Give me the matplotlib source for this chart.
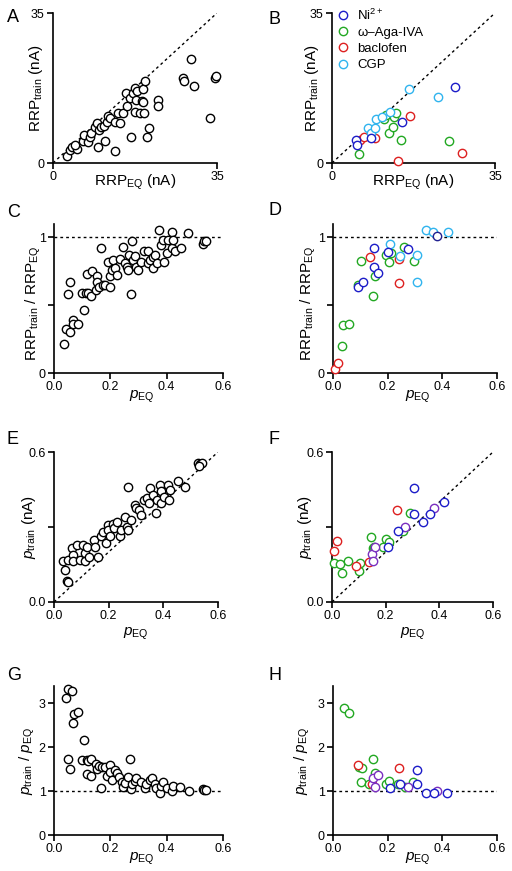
import matplotlib
matplotlib.use("Agg")
import matplotlib.pyplot as plt
from matplotlib.lines import Line2D

plt.rcParams['font.family'] = ['Liberation Sans', 'DejaVu Sans']
plt.rcParams['mathtext.fontset'] = 'custom'
plt.rcParams['mathtext.rm'] = 'Liberation Sans'
plt.rcParams['mathtext.it'] = 'Liberation Sans:italic'
plt.rcParams['mathtext.bf'] = 'Liberation Sans:bold'

# ---------------- data ----------------
# Panel A: RRP_EQ vs RRP_train (nA), control cells
A_x = [2.9, 3.6, 4.0, 5.2, 4.6, 6.3, 6.6, 7.5, 7.9, 8.1, 9.0, 9.3, 9.7, 9.9, 10.2, 10.9, 11.1,
       11.5, 11.8, 12.2, 13.2, 13.3, 13.9, 14.2, 15.0, 15.5, 15.7, 16.4, 16.6, 17.1, 17.5, 17.7,
       17.5, 18.0, 18.6, 18.9, 19.3, 19.5, 19.2, 19.6, 20.0, 20.5, 22.5, 22.4, 27.8, 28.0, 29.5,
       30.1, 33.6, 34.6, 34.7]
A_y = [1.6, 3.0, 3.7, 3.3, 4.1, 5.1, 6.5, 5.0, 6.1, 7.1, 8.5, 9.3, 3.7, 7.7, 8.3, 8.7, 5.1,
       9.6, 11.0, 10.6, 2.8, 9.6, 11.6, 9.4, 11.7, 16.3, 13.3, 15.1, 6.1, 16.3, 17.4, 14.7,
       12.0, 16.9, 11.6, 14.5, 14.3, 11.6, 17.3, 19.1, 6.1, 8.1, 14.7, 13.3, 19.8, 19.2, 24.2,
       18.0, 10.4, 19.9, 20.3]

# Panel B: groups
B_ni_x = [5.1, 5.3, 8.4, 15.0, 26.5]
B_ni_y = [5.4, 4.2, 5.9, 9.6, 17.7]
B_aga_x = [5.7, 11.2, 11.7, 12.3, 13.0, 13.4, 13.7, 14.8, 25.1]
B_aga_y = [2.0, 10.2, 11.2, 7.1, 8.5, 10.8, 11.6, 5.4, 5.1]
B_bac_x = [6.0, 6.9, 9.3, 16.7, 14.1, 27.9]
B_bac_y = [5.4, 6.1, 5.9, 11.0, 0.5, 2.3]
B_cgp_x = [7.7, 8.4, 9.3, 9.4, 10.7, 12.5, 16.6, 22.7]
B_cgp_y = [8.1, 6.9, 8.1, 10.2, 10.7, 11.8, 17.3, 15.3]

# Panel C: pEQ vs RRP_train / RRP_EQ
C_x = [0.037, 0.043, 0.057, 0.069, 0.069, 0.084, 0.049, 0.057, 0.108, 0.100, 0.114, 0.122, 0.130,
       0.116, 0.134, 0.151, 0.151, 0.148, 0.158, 0.167, 0.175, 0.181, 0.193, 0.199, 0.199, 0.205,
       0.211, 0.217, 0.222, 0.234, 0.246, 0.252, 0.258, 0.262, 0.266, 0.273, 0.276, 0.280, 0.286,
       0.292, 0.297, 0.309, 0.321, 0.333, 0.335, 0.340, 0.350, 0.352, 0.358, 0.364, 0.374, 0.380,
       0.386, 0.389, 0.400, 0.406, 0.418, 0.420, 0.422, 0.430, 0.451, 0.477, 0.528, 0.533, 0.541]
C_y = [0.21, 0.32, 0.30, 0.39, 0.36, 0.36, 0.58, 0.67, 0.46, 0.59, 0.59, 0.59, 0.57,
       0.73, 0.75, 0.71, 0.67, 0.61, 0.63, 0.92, 0.65, 0.65, 0.82, 0.71, 0.63, 0.76,
       0.83, 0.77, 0.72, 0.84, 0.93, 0.81, 0.78, 0.76, 0.87, 0.58, 0.97, 0.83, 0.86,
       0.78, 0.76, 0.82, 0.90, 0.90, 0.81, 0.83, 0.77, 0.85, 0.87, 0.81, 1.05, 0.94,
       0.98, 0.82, 0.88, 0.98, 1.04, 0.92, 0.98, 0.90, 0.92, 1.03, 0.95, 0.97, 0.97]

# Panel D
D_ni_x = [0.090, 0.109, 0.151, 0.151, 0.163, 0.200, 0.273]
D_ni_y = [0.63, 0.667, 0.92, 0.78, 0.733, 0.89, 0.91]
D_aga_x = [0.035, 0.060, 0.033, 0.102, 0.090, 0.145, 0.154, 0.194, 0.206, 0.212, 0.261, 0.295]
D_aga_y = [0.35, 0.36, 0.20, 0.826, 0.65, 0.57, 0.71, 0.868, 0.82, 0.88, 0.93, 0.826]
D_bac_x = [0.007, 0.019, 0.137, 0.240, 0.243]
D_bac_y = [0.027, 0.076, 0.855, 0.84, 0.66]
D_cgp_x = [0.209, 0.245, 0.307, 0.307, 0.341, 0.365, 0.419]
D_cgp_y = [0.95, 0.86, 0.868, 0.67, 1.05, 1.04, 1.035]
D_oth_x = [0.380]
D_oth_y = [1.007]

# Panel E: pEQ vs p_train
E_x = [0.046, 0.050, 0.040, 0.034, 0.052, 0.065, 0.071, 0.071, 0.083, 0.095, 0.106, 0.112, 0.114,
       0.122, 0.128, 0.147, 0.150, 0.162, 0.172, 0.180, 0.189, 0.196, 0.199, 0.205, 0.217, 0.221,
       0.229, 0.240, 0.245, 0.260, 0.266, 0.270, 0.270, 0.280, 0.296, 0.300, 0.310, 0.318, 0.330,
       0.340, 0.348, 0.351, 0.363, 0.373, 0.375, 0.387, 0.390, 0.392, 0.404, 0.416, 0.423, 0.420,
       0.452, 0.479, 0.528, 0.534, 0.540, 0.530]
E_y = [0.084, 0.080, 0.128, 0.164, 0.168, 0.215, 0.190, 0.164, 0.230, 0.168, 0.230, 0.195, 0.163,
       0.220, 0.180, 0.248, 0.220, 0.181, 0.265, 0.280, 0.236, 0.310, 0.289, 0.263, 0.311, 0.297,
       0.320, 0.263, 0.289, 0.341, 0.300, 0.461, 0.287, 0.328, 0.388, 0.375, 0.368, 0.350, 0.408,
       0.416, 0.395, 0.455, 0.430, 0.357, 0.408, 0.467, 0.443, 0.395, 0.420, 0.467, 0.447, 0.408,
       0.484, 0.461, 0.557, 0.553, 0.557, 0.546]

# Panel F
F_ni_x = [0.207, 0.245, 0.307, 0.307, 0.338, 0.365, 0.416]
F_ni_y = [0.219, 0.284, 0.455, 0.352, 0.321, 0.351, 0.401]
F_aga_x = [0.009, 0.030, 0.037, 0.058, 0.102, 0.106, 0.145, 0.152, 0.158, 0.189, 0.201, 0.211, 0.263, 0.291]
F_aga_y = [0.155, 0.151, 0.115, 0.165, 0.125, 0.158, 0.259, 0.217, 0.220, 0.221, 0.251, 0.240, 0.284, 0.355]
F_bac_x = [0.006, 0.019, 0.089, 0.137, 0.241]
F_bac_y = [0.205, 0.244, 0.145, 0.159, 0.368]
F_oth_x = [0.149, 0.154, 0.160, 0.273, 0.379]
F_oth_y = [0.192, 0.165, 0.220, 0.299, 0.375]

# Panel G: pEQ vs p_train / pEQ
G_x = [0.051, 0.065, 0.043, 0.072, 0.084, 0.069, 0.108, 0.049, 0.057, 0.098, 0.116, 0.122, 0.130,
       0.116, 0.130, 0.148, 0.154, 0.158, 0.167, 0.170, 0.181, 0.187, 0.199, 0.199, 0.207, 0.217,
       0.222, 0.230, 0.240, 0.246, 0.252, 0.262, 0.270, 0.273, 0.278, 0.286, 0.292, 0.308, 0.322,
       0.328, 0.340, 0.348, 0.357, 0.363, 0.375, 0.379, 0.387, 0.400, 0.418, 0.424, 0.449, 0.479,
       0.528, 0.533, 0.541]
G_y = [3.33, 3.28, 3.11, 2.75, 2.80, 2.55, 2.17, 1.74, 1.50, 1.70, 1.70, 1.69, 1.73,
       1.39, 1.34, 1.62, 1.50, 1.57, 1.08, 1.54, 1.55, 1.35, 1.60, 1.43, 1.26, 1.47,
       1.40, 1.31, 1.21, 1.09, 1.19, 1.33, 1.72, 1.05, 1.17, 1.23, 1.30, 1.20, 1.08,
       1.15, 1.25, 1.29, 1.17, 1.08, 0.96, 1.11, 1.20, 1.08, 0.99, 1.11, 1.09, 0.99,
       1.05, 1.02, 1.03]

# Panel H
H_ni_x = [0.210, 0.245, 0.307, 0.307, 0.341, 0.368, 0.416]
H_ni_y = [1.06, 1.16, 1.49, 1.15, 0.95, 0.96, 0.96]
H_aga_x = [0.039, 0.060, 0.094, 0.107, 0.102, 0.130, 0.147, 0.154, 0.194, 0.206, 0.236, 0.265, 0.292]
H_aga_y = [2.90, 2.78, 1.54, 1.52, 1.21, 1.17, 1.74, 1.40, 1.16, 1.23, 1.17, 1.09, 1.20]
H_bac_x = [0.090, 0.143, 0.243]
H_bac_y = [1.59, 1.15, 1.52]
H_oth_x = [0.145, 0.163, 0.154, 0.274, 0.380]
H_oth_y = [1.29, 1.36, 1.09, 1.09, 1.00]

legend_labels = ['Ni$^{2+}$', 'ω–Aga-IVA', 'baclofen', 'CGP']
p_ticks = [0.0, 0.2, 0.4, 0.6]
p_ticklabels = ['0.0', '0.2', '0.4', '0.6']

# ---------------- style ----------------
C_NI = '#1c1cc8'
C_AGA = '#22a822'
C_BAC = '#dd2020'
C_CGP = '#30b4ee'
C_OTH = '#7a2fc0'
MS = 36
MLW = 1.0
TFS = 9
LFS = 11

W, H = 512, 871
fig = plt.figure(figsize=(W / 100, H / 100), dpi=100)


def mkax(l, t, r, b):
    ax = fig.add_axes([l / W, 1 - b / H, (r - l) / W, (b - t) / H])
    for s in ['top', 'right']:
        ax.spines[s].set_visible(False)
    for s in ['left', 'bottom']:
        ax.spines[s].set_linewidth(1.2)
    ax.tick_params(width=1.2, length=4, labelsize=TFS, pad=2)
    return ax


def sc(ax, x, y, c):
    ax.scatter(x, y, s=MS, facecolors='white', edgecolors=c, linewidths=MLW, zorder=3, clip_on=False)


def dot(ax, x, y):
    ax.plot(x, y, color='black', lw=1.0, ls=(0, (2, 2.2)), zorder=1)


lab_rrp_train = r'RRP$_{\mathregular{train}}$ (nA)'
lab_rrp_eq = r'RRP$_{\mathregular{EQ}}$ (nA)'
lab_ratio = r'RRP$_{\mathregular{train}}$ / RRP$_{\mathregular{EQ}}$'
lab_peq = r'$\mathit{p}_{\mathregular{EQ}}$'
lab_ptrain = r'$\mathit{p}_{\mathregular{train}}$ (nA)'
lab_pratio = r'$\mathit{p}_{\mathregular{train}}$ / $\mathit{p}_{\mathregular{EQ}}$'

# A
axA = mkax(53, 13, 217, 163)
dot(axA, [0, 35], [0, 35])
sc(axA, A_x, A_y, 'black')
axA.set_xlim(0, 35); axA.set_ylim(0, 35)
axA.set_xticks([0, 35]); axA.set_yticks([0, 35])
axA.set_xlabel(lab_rrp_eq, fontsize=LFS)
axA.xaxis.set_label_coords(0.5, -0.065)
axA.set_ylabel(lab_rrp_train, fontsize=LFS)
axA.yaxis.set_label_coords(-0.05, 0.5)

# B
axB = mkax(332, 13, 495, 163)
dot(axB, [0, 35], [0, 35])
sc(axB, B_bac_x, B_bac_y, C_BAC)
sc(axB, B_aga_x, B_aga_y, C_AGA)
sc(axB, B_cgp_x, B_cgp_y, C_CGP)
sc(axB, B_ni_x, B_ni_y, C_NI)
axB.set_xlim(0, 35); axB.set_ylim(0, 35)
axB.set_xticks([0, 35]); axB.set_yticks([0, 35])
axB.set_xlabel(lab_rrp_eq, fontsize=LFS)
axB.xaxis.set_label_coords(0.5, -0.065)
axB.set_ylabel(lab_rrp_train, fontsize=LFS)
axB.yaxis.set_label_coords(-0.07, 0.5)
handles = [Line2D([], [], ls='none', marker='o', markersize=6, markerfacecolor='white',
                  markeredgecolor=c, markeredgewidth=MLW) for c in [C_NI, C_AGA, C_BAC, C_CGP]]
axB.legend(handles, legend_labels, loc='upper left', bbox_to_anchor=(-0.02, 1.09), frameon=False,
           fontsize=9.5, handlelength=1.0, handletextpad=0.55, labelspacing=0.3, borderaxespad=0.2)

# C
axC = mkax(54, 224, 223, 373)
dot(axC, [0, 0.6], [1, 1])
sc(axC, C_x, C_y, 'black')
axC.set_xlim(0, 0.6); axC.set_ylim(0, 1.096)
axC.set_xticks(p_ticks); axC.set_xticklabels(p_ticklabels)
axC.set_yticks([0, 0.5, 1]); axC.set_yticklabels(['0', '', '1'])
axC.set_xlabel(lab_peq, fontsize=LFS)
axC.xaxis.set_label_coords(0.52, -0.105)
axC.set_ylabel(lab_ratio, fontsize=LFS)
axC.yaxis.set_label_coords(-0.065, 0.47)

# D
axD = mkax(333, 224, 497, 373)
dot(axD, [0, 0.6], [1, 1])
sc(axD, D_bac_x, D_bac_y, C_BAC)
sc(axD, D_aga_x, D_aga_y, C_AGA)
sc(axD, D_cgp_x, D_cgp_y, C_CGP)
sc(axD, D_ni_x, D_ni_y, C_NI)
sc(axD, D_oth_x, D_oth_y, '#202090')
axD.set_xlim(0, 0.6); axD.set_ylim(0, 1.096)
axD.set_xticks(p_ticks); axD.set_xticklabels(p_ticklabels)
axD.set_yticks([0, 0.5, 1]); axD.set_yticklabels(['0', '', '1'])
axD.set_xlabel(lab_peq, fontsize=LFS)
axD.xaxis.set_label_coords(0.52, -0.105)
axD.set_ylabel(lab_ratio, fontsize=LFS)
axD.yaxis.set_label_coords(-0.09, 0.47)

# E
axE = mkax(54, 452, 218, 602)
dot(axE, [0, 0.6], [0, 0.6])
sc(axE, E_x, E_y, 'black')
axE.set_xlim(0, 0.6); axE.set_ylim(0, 0.6)
axE.set_xticks(p_ticks); axE.set_xticklabels(p_ticklabels)
axE.set_yticks([0, 0.3, 0.6]); axE.set_yticklabels(['0.0', '', '0.6'])
axE.set_xlabel(lab_peq, fontsize=LFS)
axE.xaxis.set_label_coords(0.5, -0.155)
axE.set_ylabel(lab_ptrain, fontsize=LFS)
axE.yaxis.set_label_coords(-0.1, 0.5)

# F
axF = mkax(332, 452, 493, 602)
dot(axF, [0, 0.6], [0, 0.6])
sc(axF, F_aga_x, F_aga_y, C_AGA)
sc(axF, F_bac_x, F_bac_y, C_BAC)
sc(axF, F_oth_x, F_oth_y, C_OTH)
sc(axF, F_ni_x, F_ni_y, C_NI)
axF.set_xlim(0, 0.6); axF.set_ylim(0, 0.6)
axF.set_xticks(p_ticks); axF.set_xticklabels(p_ticklabels)
axF.set_yticks([0, 0.3, 0.6]); axF.set_yticklabels(['0.0', '', '0.6'])
axF.set_xlabel(lab_peq, fontsize=LFS)
axF.xaxis.set_label_coords(0.5, -0.155)
axF.set_ylabel(lab_ptrain, fontsize=LFS)
axF.yaxis.set_label_coords(-0.11, 0.5)

# G
axG = mkax(54, 686, 223, 835)
dot(axG, [0, 0.6], [1, 1])
sc(axG, G_x, G_y, 'black')
axG.set_xlim(0, 0.6); axG.set_ylim(0, 3.39)
axG.set_xticks(p_ticks); axG.set_xticklabels(p_ticklabels)
axG.set_yticks([0, 1, 2, 3])
axG.set_xlabel(lab_peq, fontsize=LFS)
axG.xaxis.set_label_coords(0.52, -0.105)
axG.set_ylabel(lab_pratio, fontsize=LFS)
axG.yaxis.set_label_coords(-0.1, 0.5)

# H
axH = mkax(333, 686, 497, 835)
dot(axH, [0, 0.6], [1, 1])
sc(axH, H_aga_x, H_aga_y, C_AGA)
sc(axH, H_bac_x, H_bac_y, C_BAC)
sc(axH, H_oth_x, H_oth_y, C_OTH)
sc(axH, H_ni_x, H_ni_y, C_NI)
axH.set_xlim(0, 0.6); axH.set_ylim(0, 3.39)
axH.set_xticks(p_ticks); axH.set_xticklabels(p_ticklabels)
axH.set_yticks([0, 1, 2, 3])
axH.set_xlabel(lab_peq, fontsize=LFS)
axH.xaxis.set_label_coords(0.52, -0.105)
axH.set_ylabel(lab_pratio, fontsize=LFS)
axH.yaxis.set_label_coords(-0.13, 0.5)

# panel letters
letters = [('A', 7, 9), ('B', 268, 11), ('C', 7, 204), ('D', 268, 202),
           ('E', 7, 431), ('F', 268, 431), ('G', 7, 667), ('H', 268, 667)]
for t, x, y in letters:
    fig.text(x / W, 1 - y / H, t, fontsize=13, ha='left', va='top')

fig.savefig('out.png', dpi=100)
